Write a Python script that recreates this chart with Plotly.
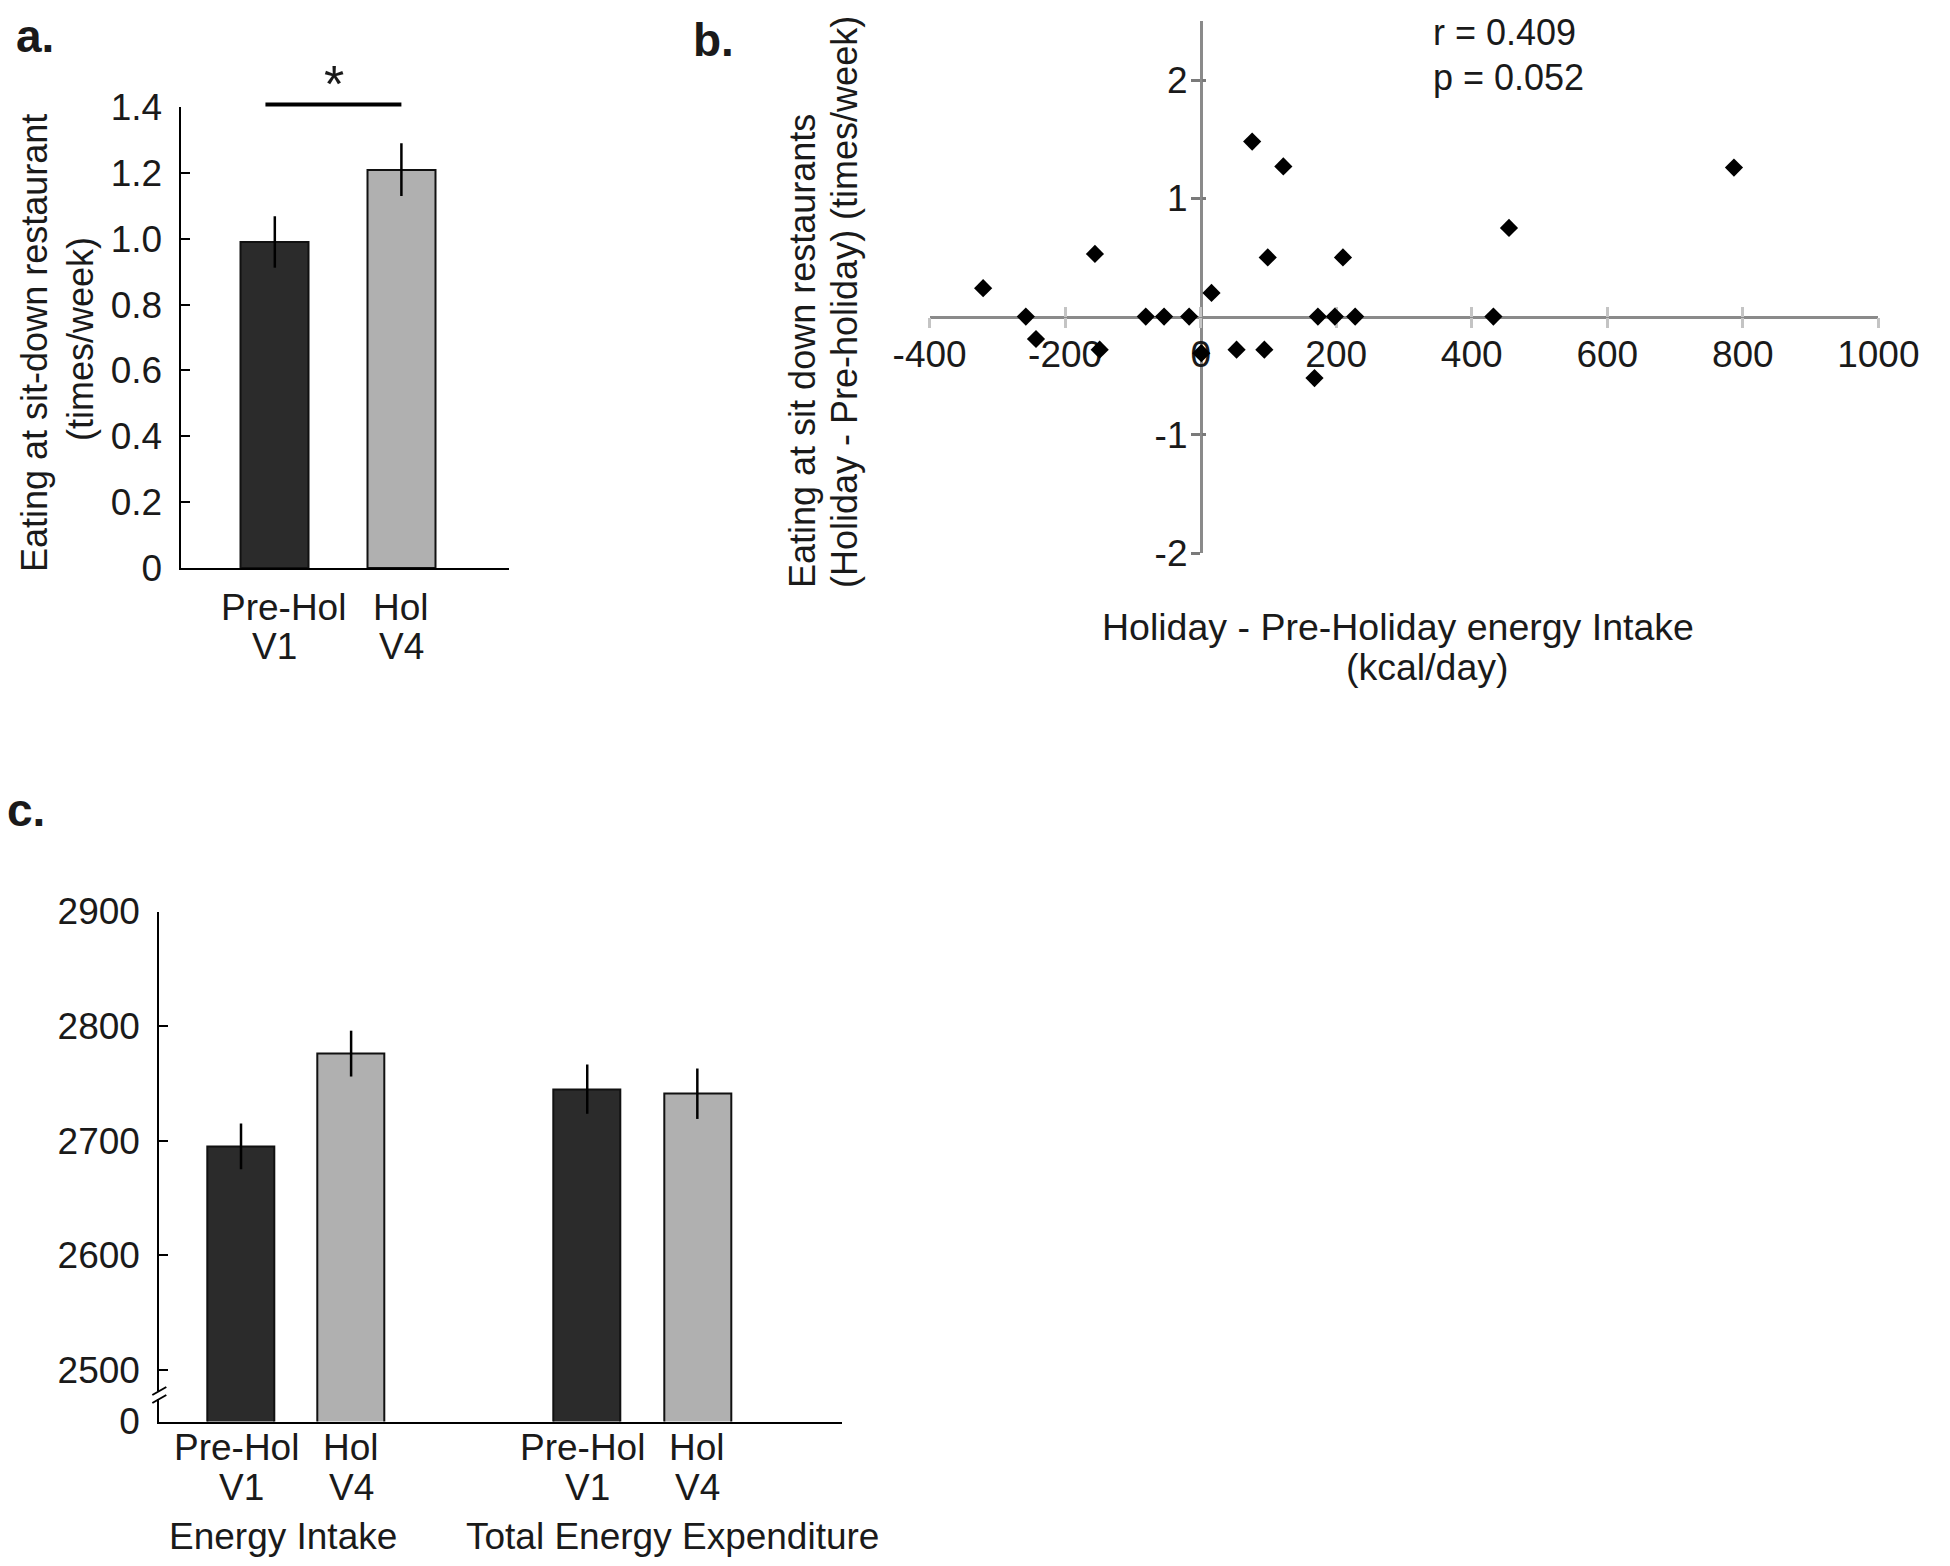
import numpy as np
import plotly.graph_objects as go

# ---------------- data ----------------
cond_line1 = ["Pre-Hol", "Hol"]
cond_line2 = ["V1", "V4"]

# panel a
a_means = [0.99, 1.21]
a_err = [0.078, 0.08]
a_yticks = [0, 0.2, 0.4, 0.6, 0.8, 1.0, 1.2, 1.4]
a_yticktext = ["0", "0.2", "0.4", "0.6", "0.8", "1.0", "1.2", "1.4"]

# panel b
b_x = [-321, -258, -243, -156, -149, -81, -54, -17, 1, 16, 53, 76, 94,
       99, 122, 168, 173, 198, 210, 228, 432, 455, 787]
b_y = [0.24, 0, -0.19, 0.53, -0.28, 0, 0, 0, -0.31, 0.2, -0.28, 1.48, -0.28,
       0.5, 1.27, -0.52, 0, 0, 0.5, 0, 0, 0.75, 1.26]
b_xticks = [-400, -200, 0, 200, 400, 600, 800, 1000]
b_xticktext = ["-400", "-200", "0", "200", "400", "600", "800", "1000"]
b_yticks = [-2, -1, 1, 2]
b_yticktext = ["-2", "-1", "1", "2"]
b_r_text = "r = 0.409"
b_p_text = "p = 0.052"

# panel c
c_groups = ["Energy Intake", "Total Energy Expenditure"]
c_pre = [2695, 2745]
c_pre_err = [20, 21.5]
c_hol = [2776, 2741]
c_hol_err = [20, 22]
c_yticks = [2455, 2500, 2600, 2700, 2800, 2900]
c_yticktext = ["0", "2500", "2600", "2700", "2800", "2900"]

# ---------------- layout helpers ----------------
W, H = 1950, 1566
OFF = 8
FW, FH = W - 2 * OFF, H - 2 * OFF


def fx(px):
    return (px - OFF) / FW


def fy(py):
    return 1 - (py - OFF) / FH


FONT = "Liberation Sans, Arial, Helvetica, sans-serif"
TXT = "#1a1a1a"
DARK = "#2b2b2b"
LIGHT = "#b0b0b0"

fig = go.Figure()

# ---------------- panel a ----------------
a_pos = np.arange(len(cond_line1))
fig.add_trace(go.Bar(
    x=a_pos, y=a_means, width=0.54,
    marker=dict(color=[DARK, LIGHT], line=dict(color="#111111", width=2)),
    error_y=dict(type="data", array=a_err, color="black", thickness=2.5, width=0),
    xaxis="x", yaxis="y", showlegend=False, hoverinfo="skip"))

# ---------------- panel b ----------------
fig.add_trace(go.Scatter(
    x=b_x, y=b_y, mode="markers",
    marker=dict(symbol="diamond", size=14, color="black"),
    xaxis="x2", yaxis="y2", showlegend=False, cliponaxis=False, hoverinfo="skip"))
# overlay subplot used only to draw the inner half of cross ticks
fig.add_trace(go.Scatter(x=[None], y=[None], mode="markers", xaxis="x4", yaxis="y4",
                         showlegend=False, hoverinfo="skip"))

# ---------------- panel c ----------------
c_idx = np.arange(len(c_groups))
c_off = 0.159
c_w = 0.1935
fig.add_trace(go.Bar(
    x=c_idx - c_off, y=c_pre, width=c_w,
    marker=dict(color=DARK, line=dict(color="#111111", width=2)),
    error_y=dict(type="data", array=c_pre_err, color="black", thickness=2.5, width=0),
    xaxis="x3", yaxis="y3", showlegend=False, hoverinfo="skip"))
fig.add_trace(go.Bar(
    x=c_idx + c_off, y=c_hol, width=c_w,
    marker=dict(color=LIGHT, line=dict(color="#111111", width=2)),
    error_y=dict(type="data", array=c_hol_err, color="black", thickness=2.5, width=0),
    xaxis="x3", yaxis="y3", showlegend=False, hoverinfo="skip"))

# domains
a_xd = [fx(180.5), fx(509)]
a_yd = [fy(568), fy(107)]
b_xd = [fx(929.6), fx(1878.3)]
b_yd = [fy(553), fy(21)]
c_xd = [fx(159.3), fx(841.7)]
c_yd = [fy(1421.5), fy(911.5)]

b_xr = [-400, 1000]
b_yr = [-2, 2.5]
b_xpos = b_yd[0] + (0 - b_yr[0]) / (b_yr[1] - b_yr[0]) * (b_yd[1] - b_yd[0])
b_ypos = b_xd[0] + (0 - b_xr[0]) / (b_xr[1] - b_xr[0]) * (b_xd[1] - b_xd[0])

tick_font = dict(family=FONT, size=37, color=TXT)
AXIS_GRAY = "#8a8a8a"
TICK_LIGHT = "#c4c4c4"

common = dict(showgrid=False, zeroline=False, automargin=False)

fig.update_layout(
    template="none",
    width=FW, height=FH,
    margin=dict(l=0, r=0, t=0, b=0, pad=0, autoexpand=False),
    paper_bgcolor="white", plot_bgcolor="white",
    font=dict(family=FONT, size=36, color=TXT),
    bargap=0,
    # panel a
    xaxis=dict(domain=a_xd, anchor="y", range=[-0.745, 1.85], showline=True,
               linecolor="black", linewidth=2, ticks="", showticklabels=False, **common),
    yaxis=dict(domain=a_yd, anchor="x", range=[0, 1.4], showline=True,
               linecolor="black", linewidth=2, ticks="inside", ticklen=9,
               tickwidth=2, tickcolor="black", tickvals=a_yticks,
               ticktext=a_yticktext, tickfont=tick_font, ticklabelstandoff=9, **common),
    # panel b
    xaxis2=dict(domain=b_xd, anchor="free", position=b_xpos, range=b_xr,
                showline=True, linecolor=AXIS_GRAY, linewidth=2.5,
                ticks="outside", ticklen=10, tickwidth=3, tickcolor=TICK_LIGHT,
                tickvals=b_xticks, ticktext=b_xticktext, tickfont=tick_font,
                ticklabelstandoff=-6, layer="below traces", **common),
    yaxis2=dict(domain=b_yd, anchor="free", position=b_ypos, range=b_yr,
                showline=True, linecolor=AXIS_GRAY, linewidth=2.5,
                ticks="outside", ticklen=9, tickwidth=3, tickcolor="#7a7a7a",
                tickvals=b_yticks, ticktext=b_yticktext, tickfont=tick_font,
                ticklabelstandoff=-4, layer="below traces", **common),
    xaxis4=dict(overlaying="x2", anchor="free", position=b_xpos, range=b_xr,
                showline=False, ticks="inside", ticklen=10, tickwidth=3,
                tickcolor=TICK_LIGHT, tickvals=b_xticks, showticklabels=False,
                layer="below traces", **common),
    yaxis4=dict(overlaying="y2", anchor="free", position=b_ypos, range=b_yr,
                showline=False, ticks="inside", ticklen=4, tickwidth=3,
                tickcolor="#7a7a7a", tickvals=b_yticks, showticklabels=False,
                layer="below traces", **common),
    # panel c
    xaxis3=dict(domain=c_xd, anchor="y3", range=[-0.395, 1.576], showline=True,
                linecolor="black", linewidth=2, ticks="", showticklabels=False, **common),
    yaxis3=dict(domain=c_yd, anchor="x3", range=[2455, 2900], showline=True,
                linecolor="black", linewidth=2, ticks="inside", ticklen=9,
                tickwidth=2, tickcolor="black", tickvals=c_yticks,
                ticktext=c_yticktext, tickfont=dict(family=FONT, size=37, color=TXT),
                ticklabelstandoff=10, **common),
)

ann = []


def text(x, y, s, size=36, xref="paper", yref="paper", xanchor="center",
         yanchor="middle", angle=0, bold=False, xshift=0):
    ann.append(dict(x=x, y=y, xref=xref, yref=yref, text=("<b>%s</b>" % s) if bold else s,
                    showarrow=False, xanchor=xanchor, yanchor=yanchor, xshift=xshift,
                    borderpad=0, textangle=angle,
                    font=dict(family=FONT, size=size, color=TXT)))


# panel labels
text(fx(15), fy(8.5), "a.", size=46, xanchor="left", yanchor="top", bold=True)
text(fx(692), fy(40), "b.", size=46, xanchor="left", bold=True)
text(fx(6), fy(810), "c.", size=46, xanchor="left", bold=True)

# panel a texts
text(fx(35), fy(343), "Eating at sit-down restaurant", size=36, angle=-90)
text(fx(80), fy(339), "(times/week)", size=36, angle=-90)
a_l1_shift = [9, 0]
for i in range(len(cond_line1)):
    text(a_pos[i], fy(607), cond_line1[i], size=37, xref="x", xshift=a_l1_shift[i])
    text(a_pos[i], fy(646), cond_line2[i], size=37, xref="x")
text(0.47, fy(84), "*", size=52, xref="x")

# panel b texts
text(fx(1432), fy(32), b_r_text, size=36, xanchor="left")
text(fx(1432), fy(77), b_p_text, size=36, xanchor="left")
text(fx(803), fy(589), "Eating at sit down restaurants", size=36, angle=-90, yanchor="bottom")
text(fx(845), fy(589), "(Holiday - Pre-holiday) (times/week)", size=36, angle=-90, yanchor="bottom")
text(fx(1398), fy(627), "Holiday - Pre-Holiday energy Intake", size=37.5)
text(fx(1427), fy(667), "(kcal/day)", size=37.5)

# panel c texts
c_all_pos = list(c_idx - c_off) + list(c_idx + c_off)
c_all_l1 = [cond_line1[0]] * len(c_idx) + [cond_line1[1]] * len(c_idx)
c_all_l2 = [cond_line2[0]] * len(c_idx) + [cond_line2[1]] * len(c_idx)
c_all_shift = [-5] * len(c_idx) + [0] * len(c_idx)
for p, l1, l2, sh in zip(c_all_pos, c_all_l1, c_all_l2, c_all_shift):
    text(p, fy(1447), l1, size=37, xref="x3", xshift=sh)
    text(p, fy(1487), l2, size=37, xref="x3")
c_group_shift = [-13, 30]
for i, g in enumerate(c_groups):
    text(c_idx[i], fy(1557.5), g, size=37, xref="x3", yanchor="bottom",
         xshift=c_group_shift[i])

fig.update_layout(annotations=ann)

# significance bar (panel a)
shapes = [dict(type="line", xref="x", yref="paper", x0=-0.074, x1=1.0,
               y0=fy(104.5), y1=fy(104.5), line=dict(color="black", width=4))]
# axis break marks (panel c)
brk_y = fy(1395)
shapes.append(dict(type="rect", xref="paper", yref="paper", xsizemode="pixel",
                   ysizemode="pixel", xanchor=c_xd[0], yanchor=brk_y,
                   x0=-3, x1=3, y0=-4, y1=4, fillcolor="white", line=dict(width=0)))
for dy in (-4, 4):
    shapes.append(dict(type="line", xref="paper", yref="paper", xsizemode="pixel",
                       ysizemode="pixel", xanchor=c_xd[0], yanchor=brk_y,
                       x0=-7, x1=7, y0=dy - 4, y1=dy + 4,
                       line=dict(color="black", width=2)))
fig.update_layout(shapes=shapes)

fig.write_html("out.html")
